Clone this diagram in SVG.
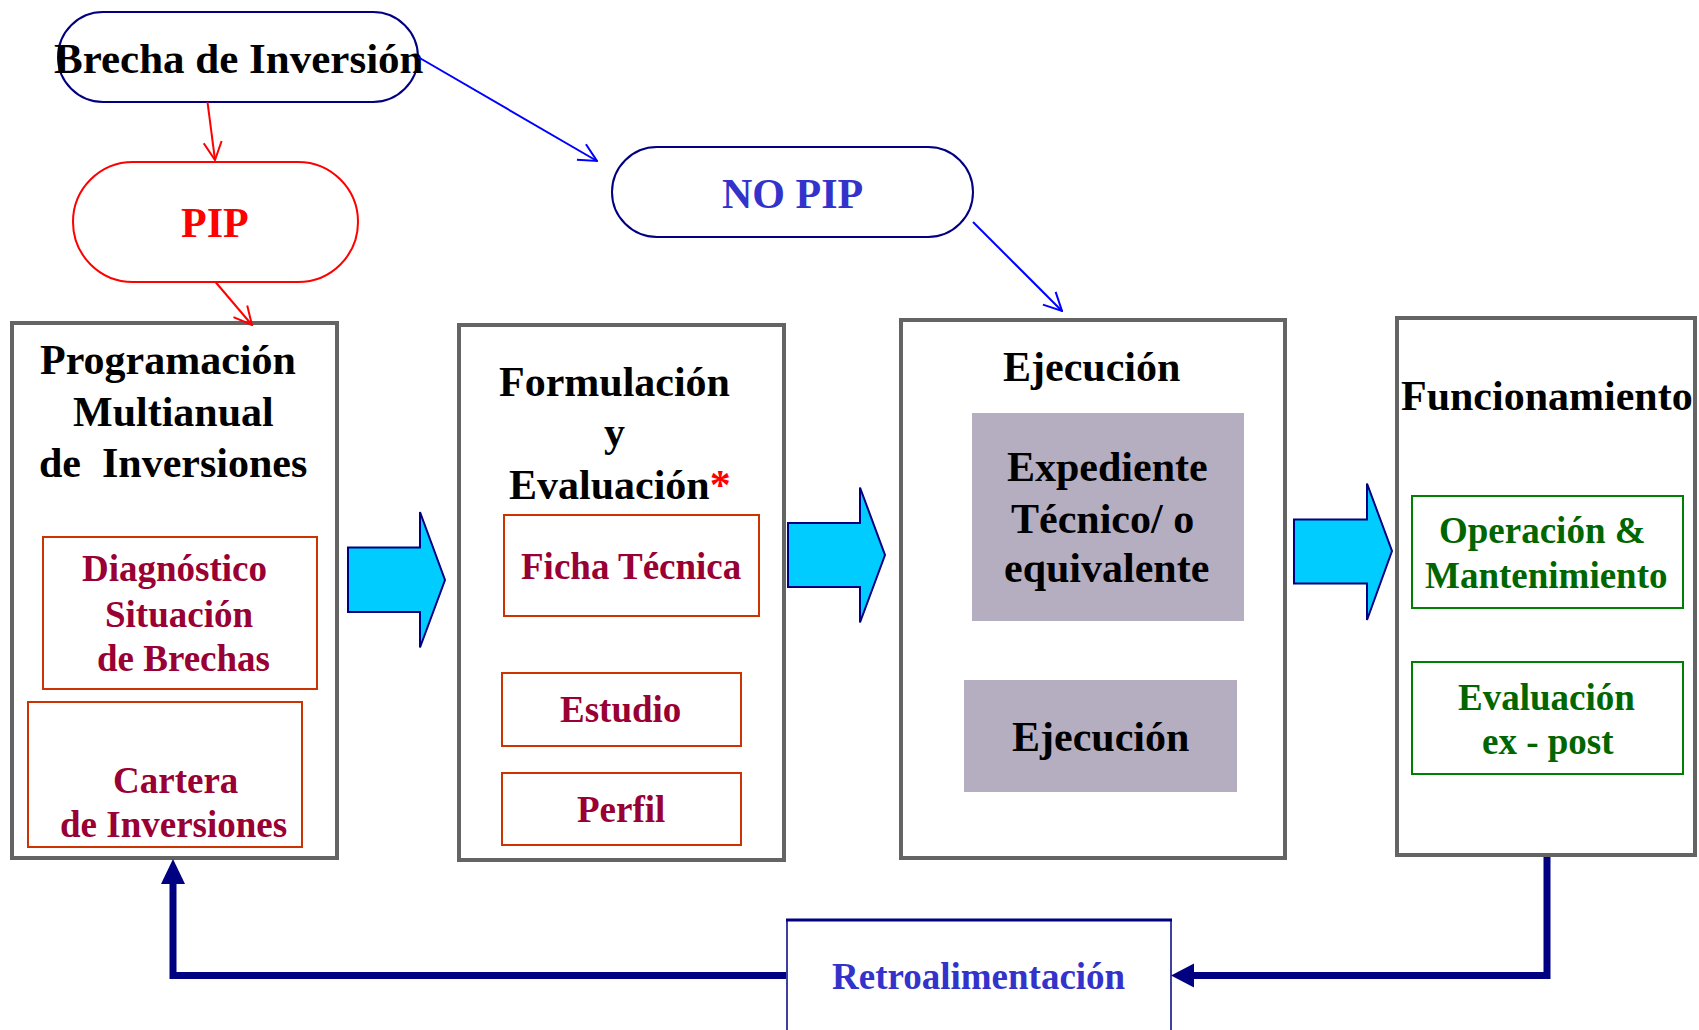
<svg xmlns="http://www.w3.org/2000/svg" width="1699" height="1030" viewBox="0 0 1699 1030">
<style>
text{font-family:"Liberation Serif","Times New Roman",serif;font-weight:bold}
.t42{font-size:42px}
.t37{font-size:37px}
.blk{fill:#000000}
.mar{fill:#990033}
.grn{fill:#006600}
.blu{fill:#3333CC}
.frame{fill:#FFFFFF;stroke:#646464;stroke-width:4}
.redbox{fill:#FFFFFF;stroke:#CC3300;stroke-width:2}
.grnbox{fill:#FFFFFF;stroke:#008000;stroke-width:2}
.graybox{fill:#B5ADC0}
.pill{fill:#FFFFFF;stroke:#000080;stroke-width:2}
.bigarrow{fill:#00CCFF;stroke:#000080;stroke-width:2}
.redline{stroke:#FF0000;stroke-width:2;fill:none}
.blueline{stroke:#0000FF;stroke-width:2;fill:none}
.fb{stroke:#000080;stroke-width:7;fill:none}
</style>
<defs>
<marker id="arrRed" viewBox="0 0 20 20" refX="19" refY="10" markerWidth="20" markerHeight="20" markerUnits="userSpaceOnUse" orient="auto"><path d="M1,1 L19,10 L1,19" fill="none" stroke="#FF0000" stroke-width="2"/></marker>
<marker id="arrBlue" viewBox="0 0 20 20" refX="19" refY="10" markerWidth="20" markerHeight="20" markerUnits="userSpaceOnUse" orient="auto"><path d="M1,1 L19,10 L1,19" fill="none" stroke="#0000FF" stroke-width="2"/></marker>
</defs>
<rect width="1699" height="1030" fill="#FFFFFF"/>

<g id="brecha">
<rect class="pill" x="58" y="12" width="360" height="90" rx="45"/>
<text class="blk" font-size="43" x="54" y="73">Brecha de Inversión</text>
</g>

<g id="pip">
<rect x="73" y="162" width="285" height="120" rx="60" fill="#FFFFFF" stroke="#FF0000" stroke-width="2"/>
<text class="t42" x="181" y="237" fill="#FF0000">PIP</text>
</g>

<g id="nopip">
<rect class="pill" x="612" y="147" width="361" height="90" rx="45"/>
<text class="t42 blu" x="722" y="208">NO PIP</text>
</g>

<g id="programacion">
<rect class="frame" x="12" y="323" width="325" height="535"/>
<text class="t42 blk" x="40" y="374">Programación</text>
<text class="t42 blk" x="73" y="426">Multianual</text>
<text class="t42 blk" x="39" y="477" xml:space="preserve">de  Inversiones</text>
</g>
<g id="diagnostico">
<rect class="redbox" x="43" y="537" width="274" height="152"/>
<text class="t37 mar" x="82" y="581">Diagnóstico</text>
<text class="t37 mar" x="105" y="627">Situación</text>
<text class="t37 mar" x="97" y="671">de Brechas</text>
</g>
<g id="cartera">
<rect class="redbox" x="28" y="702" width="274" height="145"/>
<text class="t37 mar" x="113" y="793">Cartera</text>
<text class="t37 mar" x="60" y="837">de Inversiones</text>
</g>

<g id="formulacion">
<rect class="frame" x="459" y="325" width="325" height="535"/>
<text class="t42 blk" x="499" y="396">Formulación</text>
<text class="t42 blk" x="604" y="446">y</text>
<text class="t42 blk" x="509" y="499">Evaluación<tspan fill="#FF0000">*</tspan></text>
</g>
<g id="ficha">
<rect class="redbox" x="504" y="515" width="255" height="101"/>
<text class="t37 mar" x="521" y="579">Ficha Técnica</text>
</g>
<g id="estudio">
<rect class="redbox" x="502" y="673" width="239" height="73"/>
<text class="t37 mar" x="560" y="722">Estudio</text>
</g>
<g id="perfil">
<rect class="redbox" x="502" y="773" width="239" height="72"/>
<text class="t37 mar" x="577" y="822">Perfil</text>
</g>

<g id="ejecucion">
<rect class="frame" x="901" y="320" width="384" height="538"/>
<text class="t42 blk" x="1003" y="381">Ejecución</text>
</g>
<g id="expediente">
<rect class="graybox" x="972" y="413" width="272" height="208"/>
<text class="t42 blk" x="1007" y="481">Expediente</text>
<text class="t42 blk" x="1011" y="533">Técnico/ o</text>
<text class="t42 blk" x="1004" y="582">equivalente</text>
</g>
<g id="ejecucion2">
<rect class="graybox" x="964" y="680" width="273" height="112"/>
<text class="t42 blk" x="1012" y="751">Ejecución</text>
</g>

<g id="funcionamiento">
<rect class="frame" x="1397" y="318" width="298" height="537"/>
<text class="t42 blk" x="1401" y="410">Funcionamiento</text>
</g>
<g id="operacion">
<rect class="grnbox" x="1412" y="496" width="271" height="112"/>
<text class="t37 grn" x="1439" y="543">Operación &amp;</text>
<text class="t37 grn" x="1425" y="588">Mantenimiento</text>
</g>
<g id="expost">
<rect class="grnbox" x="1412" y="662" width="271" height="112"/>
<text class="t37 grn" x="1458" y="710">Evaluación</text>
<text class="t37 grn" x="1482" y="754">ex - post</text>
</g>

<g id="retro">
<rect x="787" y="920" width="384" height="140" fill="#FFFFFF" stroke="#000080" stroke-width="1.5"/>
<line x1="786" y1="920" x2="1172" y2="920" stroke="#000080" stroke-width="3"/>
<text x="832" y="989" font-size="37" class="blu">Retroalimentación</text>
</g>

<g id="connectors">
<line class="redline" x1="207.5" y1="102" x2="215" y2="160" marker-end="url(#arrRed)"/>
<line class="redline" x1="215.5" y1="282" x2="252" y2="325" marker-end="url(#arrRed)"/>
<line class="blueline" x1="418" y1="57" x2="597" y2="161" marker-end="url(#arrBlue)"/>
<line class="blueline" x1="973" y1="222" x2="1062" y2="311" marker-end="url(#arrBlue)"/>
<polygon class="bigarrow" points="348,547.5 420,547.5 420,512 445,580 420,647.5 420,612 348,612"/>
<polygon class="bigarrow" points="788,523 860,523 860,487.5 885,555 860,622.5 860,587 788,587"/>
<polygon class="bigarrow" points="1294,519.5 1367,519.5 1367,483.5 1392,551 1367,620 1367,583.5 1294,583.5"/>
<polyline class="fb" points="1547,857 1547,975.5 1192,975.5"/>
<polygon points="1194,963.5 1171,975.5 1194,987.5" fill="#000080"/>
<polyline class="fb" points="786,975.5 173,975.5 173,882"/>
<polygon points="161,884 173,859 185,884" fill="#000080"/>
</g>
</svg>
